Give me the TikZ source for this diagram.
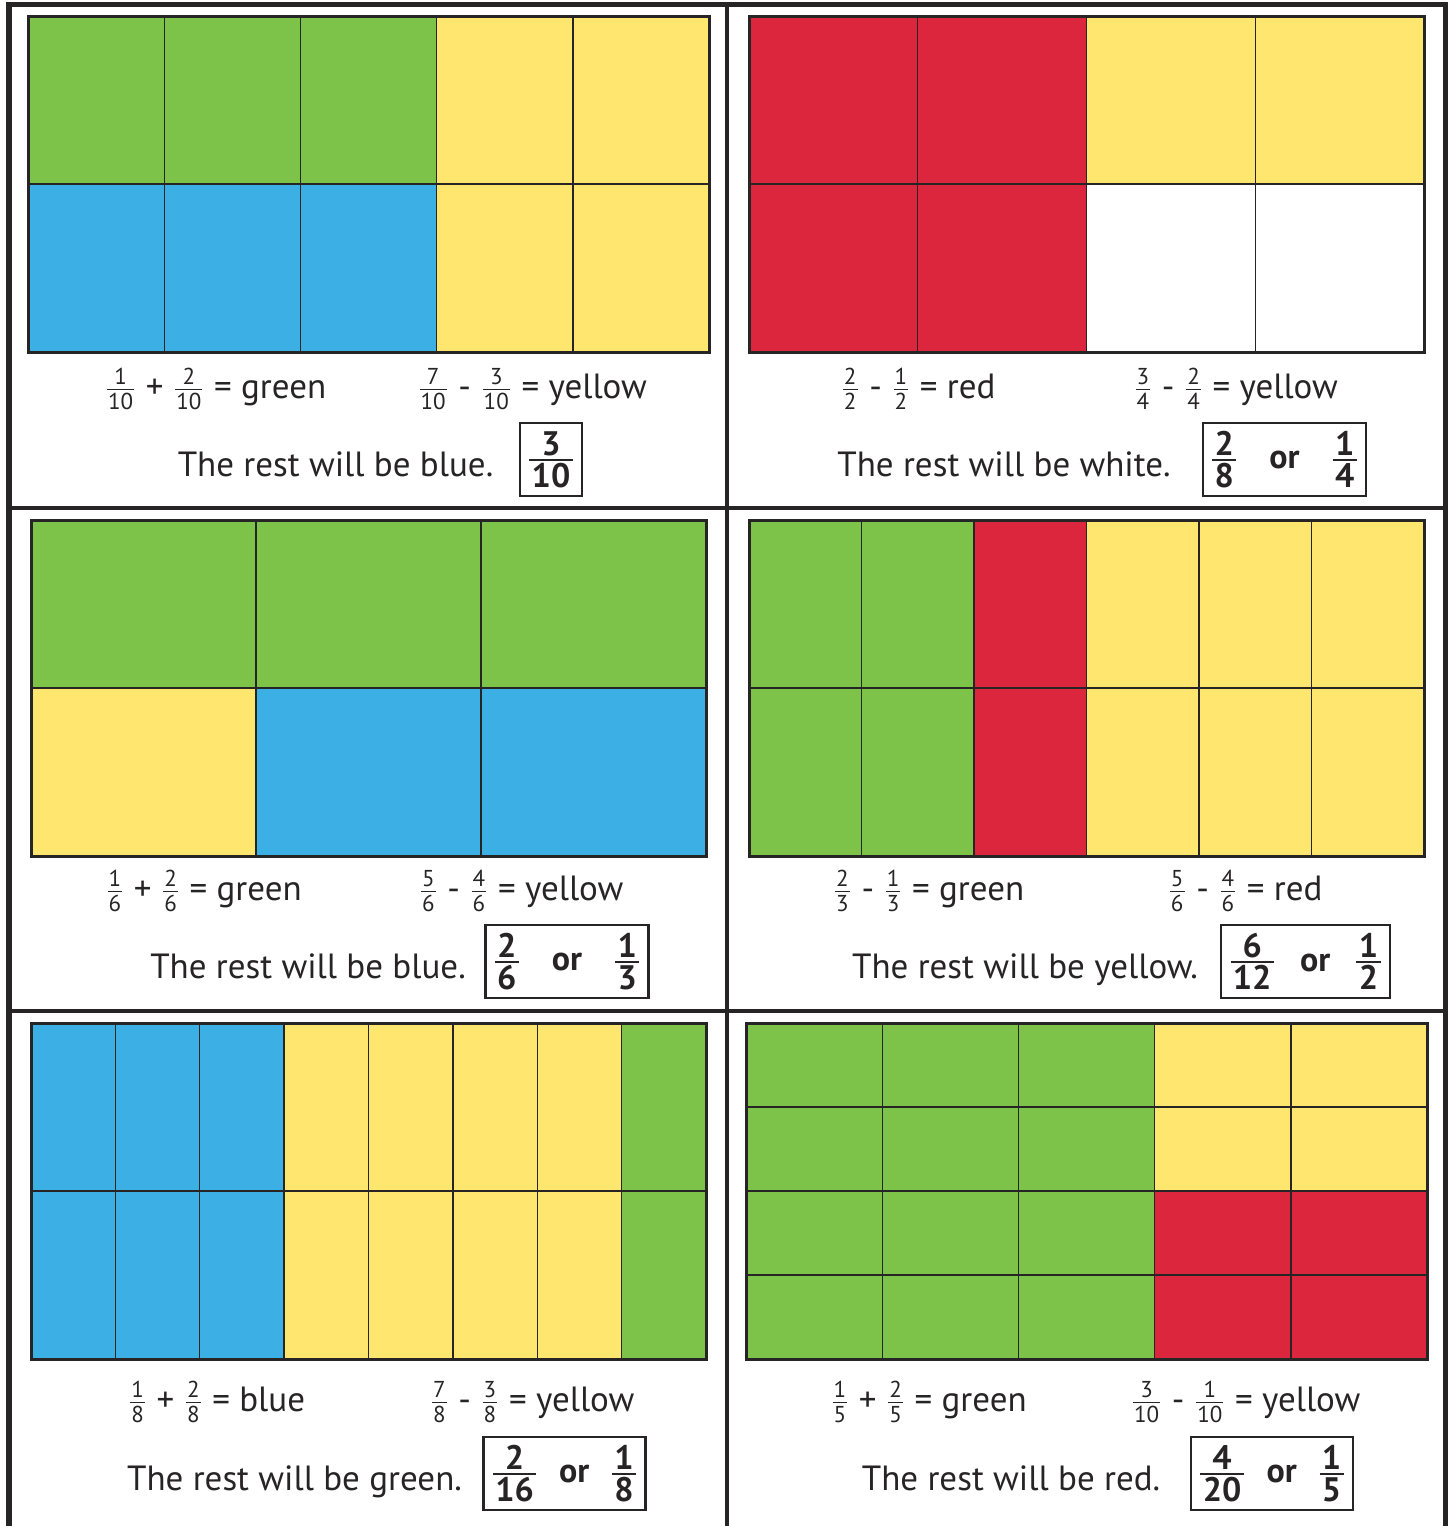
\documentclass[tikz,border=0pt]{standalone}
\usepackage{amsmath}
\usepackage{fontspec}
\setmainfont{PT Sans}

\definecolor{ink}{RGB}{38,36,37}
\definecolor{cgreen}{RGB}{125,195,74}
\definecolor{cyellow}{RGB}{255,230,110}
\definecolor{cblue}{RGB}{60,175,228}
\definecolor{cred}{RGB}{220,38,62}

\tikzset{
  cell/.style={draw=ink, line width=0.7pt},
  gridframe/.style={draw=ink, line width=1.5pt},
  divider/.style={draw=ink, line width=1.6pt},
  eqn/.style={anchor=base, inner sep=0pt, text=ink, font=\fontsize{17.5}{20}\selectfont},
  rest/.style={anchor=base, inner sep=0pt, text=ink, font=\fontsize{17.5}{20}\selectfont},
  answer/.style={draw=ink, line width=1.2pt, text=ink, inner xsep=3.5pt, inner ysep=0pt,
    minimum height=36.5pt, font=\fontsize{17}{20}\selectfont\bfseries}
}

%% small fraction in the sums, bold fraction in the answer box
\newcommand{\fr}[2]{\(\genfrac{}{}{0.6pt}{1}%
  {\hbox{\fontsize{11.5}{12}\selectfont\kern0.5pt #1\kern0.5pt}}%
  {\hbox{\fontsize{11.5}{12}\selectfont\kern0.5pt #2\kern0.5pt}}\)}
\newcommand{\bfr}[2]{\(\genfrac{}{}{1pt}{1}%
  {\hbox{\bfseries\kern1.2pt #1\kern1.2pt}}{\hbox{\bfseries\kern1.2pt #2\kern1.2pt}}\)}
\newcommand{\orsep}[1][0.9em]{\hspace{#1}or\hspace{#1}}

%% one row of coloured cells: x0, top, cell width, cell height, colours
\newcommand{\colrow}[5]{%
  \foreach \c [count=\i from 0] in {#5}
    \path[cell, fill=\c] ({#1+\i*#3},#2) rectangle ++(#3,#4);}

\begin{document}
\begin{tikzpicture}[x=0.5pt, y=-0.5pt]
  \useasboundingbox (0,0) rectangle (1454,1526);

  %% --- outer frame and dividers ---
  \draw[divider, line width=2.6pt] (9,1526) -- (9,4.5) -- (1445.5,4.5) -- (1445.5,1526);
  \draw[divider] (727,4.5) -- (727,1526);
  \draw[divider] (9,508) -- (1445.5,508);
  \draw[divider] (9,1011) -- (1445.5,1011);

  %% --- panel 1: tenths ---
  \colrow{28}{16}{136.2}{168}{cgreen,cgreen,cgreen,cyellow,cyellow}
  \colrow{28}{184}{136.2}{168}{cblue,cblue,cblue,cyellow,cyellow}
  \draw[gridframe] (28,16) rectangle (709,352);
  \node[eqn] (eqAa) at (215.5,398) {\fr{1}{10} + \fr{2}{10} = green};
  \node[eqn] (eqAb) at (532,398) {\fr{7}{10} - \fr{3}{10} = yellow};
  \node[rest] (restA) at (335.5,476) {The rest will be blue.};
  \node[answer] (ansA) at (551,459.5) {\bfr{3}{10}};

  %% --- panel 2: quarters ---
  \colrow{749}{16}{168.75}{168}{cred,cred,cyellow,cyellow}
  \colrow{749}{184}{168.75}{168}{cred,cred,white,white}
  \draw[gridframe] (749,16) rectangle (1424,352);
  \node[eqn] (eqBa) at (918,398) {\fr{2}{2} - \fr{1}{2} = red};
  \node[eqn] (eqBb) at (1235.5,398) {\fr{3}{4} - \fr{2}{4} = yellow};
  \node[rest] (restB) at (1004,476) {The rest will be white.};
  \node[answer] (ansB) at (1284.5,459.5) {\bfr{2}{8}\orsep\bfr{1}{4}};

  %% --- panel 3: sixths ---
  \colrow{31}{520}{225}{168}{cgreen,cgreen,cgreen}
  \colrow{31}{688}{225}{168}{cyellow,cblue,cblue}
  \draw[gridframe] (31,520) rectangle (706,856);
  \node[eqn] (eqCa) at (203.5,900) {\fr{1}{6} + \fr{2}{6} = green};
  \node[eqn] (eqCb) at (521,900) {\fr{5}{6} - \fr{4}{6} = yellow};
  \node[rest] (restC) at (308,978) {The rest will be blue.};
  \node[answer] (ansC) at (567,961.5) {\bfr{2}{6}\orsep\bfr{1}{3}};

  %% --- panel 4: twelfths ---
  \colrow{749}{520}{112.5}{168}{cgreen,cgreen,cred,cyellow,cyellow,cyellow}
  \colrow{749}{688}{112.5}{168}{cgreen,cgreen,cred,cyellow,cyellow,cyellow}
  \draw[gridframe] (749,520) rectangle (1424,856);
  \node[eqn] (eqDa) at (928.5,900) {\fr{2}{3} - \fr{1}{3} = green};
  \node[eqn] (eqDb) at (1245,900) {\fr{5}{6} - \fr{4}{6} = red};
  \node[rest] (restD) at (1025,978) {The rest will be yellow.};
  \node[answer] (ansD) at (1305.5,961.5) {\bfr{6}{12}\orsep[0.7em]\bfr{1}{2}};

  %% --- panel 5: sixteenths ---
  \colrow{31}{1023}{84.375}{168}{cblue,cblue,cblue,cyellow,cyellow,cyellow,cyellow,cgreen}
  \colrow{31}{1191}{84.375}{168}{cblue,cblue,cblue,cyellow,cyellow,cyellow,cyellow,cgreen}
  \draw[gridframe] (31,1023) rectangle (706,1359);
  \node[eqn] (eqEa) at (216.5,1411) {\fr{1}{8} + \fr{2}{8} = blue};
  \node[eqn] (eqEb) at (532,1411) {\fr{7}{8} - \fr{3}{8} = yellow};
  \node[rest] (restE) at (294.5,1490) {The rest will be green.};
  \node[answer] (ansE) at (564.5,1473.5) {\bfr{2}{16}\orsep[0.6em]\bfr{1}{8}};

  %% --- panel 6: twentieths ---
  \colrow{746}{1023}{136.2}{84}{cgreen,cgreen,cgreen,cyellow,cyellow}
  \colrow{746}{1107}{136.2}{84}{cgreen,cgreen,cgreen,cyellow,cyellow}
  \colrow{746}{1191}{136.2}{84}{cgreen,cgreen,cgreen,cred,cred}
  \colrow{746}{1275}{136.2}{84}{cgreen,cgreen,cgreen,cred,cred}
  \draw[gridframe] (746,1023) rectangle (1427,1359);
  \node[eqn] (eqFa) at (928.5,1411) {\fr{1}{5} + \fr{2}{5} = green};
  \node[eqn] (eqFb) at (1245.5,1411) {\fr{3}{10} - \fr{1}{10} = yellow};
  \node[rest] (restF) at (1011,1490) {The rest will be red.};
  \node[answer] (ansF) at (1272,1473.5) {\bfr{4}{20}\orsep[0.6em]\bfr{1}{5}};
\end{tikzpicture}
\end{document}
